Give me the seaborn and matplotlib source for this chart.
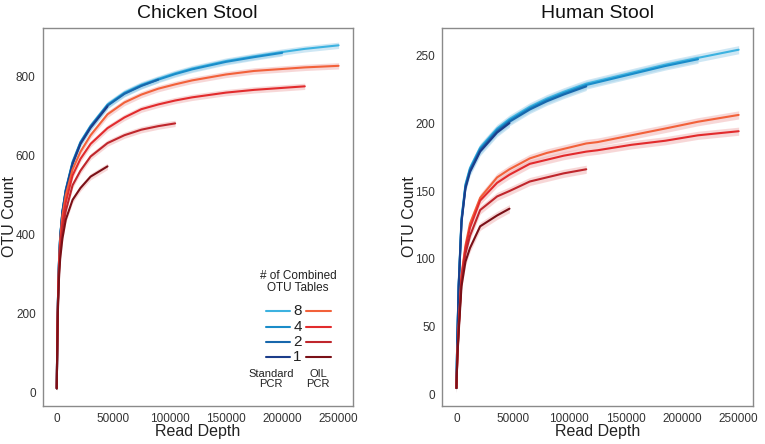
import numpy as np
import pandas as pd
import matplotlib
matplotlib.use("Agg")
import matplotlib.pyplot as plt
import seaborn as sns
from matplotlib.lines import Line2D

# ---- data (rarefaction curves) ----
# Chicken stool: common read-depth grid, each series runs as far as its list goes
ck_depth = [0, 250, 500, 1000, 1500, 2000, 3000, 5000, 8000, 14000, 21000, 30000,
            45000, 60000, 75000, 90000, 105000, 120000, 150000, 175000, 200000,
            220000, 250000]
ck_std8 = [10, 80, 140, 230, 290, 335, 395, 460, 515, 585, 635, 676, 730, 760, 780,
           795, 809, 821, 840, 852, 863, 871, 880]
ck_std4 = [10, 80, 139, 229, 289, 334, 394, 458, 513, 582, 633, 674, 728, 758, 778,
           793, 807, 819, 838, 850, 861]
ck_std2 = [10, 79, 139, 228, 288, 333, 393, 457, 512, 581, 632, 673, 727, 757, 777,
           793]
ck_std1 = [10, 79, 138, 227, 287, 332, 392, 456, 510, 579, 630, 671, 725]
ck_oil8 = [10, 79, 138, 226, 284, 327, 385, 447, 500, 565, 610, 652, 705, 735, 755,
           770, 781, 791, 806, 815, 820, 824, 828]
ck_oil4 = [10, 78, 135, 220, 276, 318, 372, 430, 482, 550, 592, 630, 670, 697, 718,
           730, 740, 748, 760, 767, 772, 776]
ck_oil2 = [10, 77, 132, 213, 266, 305, 357, 412, 460, 525, 562, 598, 632, 652, 666,
           675, 682]
ck_oil1 = [10, 75, 128, 205, 255, 290, 338, 390, 438, 488, 518, 547, 573]

# Human stool
hs_depth = [0, 500, 1000, 2000, 4500, 8000, 12000, 21000, 36000, 47000, 65000, 80000,
            95000, 115000, 125000, 155000, 185000, 214000, 250000]
hs_std8 = [5, 30, 48, 82, 130, 155, 167, 182, 196, 203, 212, 218, 223, 229, 231, 237,
           243, 248, 254]
hs_std4 = [5, 30, 48, 81, 129, 154, 166, 181, 195, 202, 211, 217, 222, 228, 230, 236,
           242, 247]
hs_std2 = [5, 30, 47, 80, 128, 153, 165, 180, 194, 201, 210, 216, 221, 227]
hs_std1 = [5, 29, 47, 80, 127, 152, 164, 179, 193, 200]
hs_oil8 = [5, 20, 32, 50, 88, 110, 126, 145, 160, 166, 174, 178, 181, 185, 186, 191,
           196, 201, 206]
hs_oil4 = [5, 20, 32, 50, 87, 108, 123, 143, 156, 162, 170, 173, 176, 179, 180, 184,
           187, 191, 194]
hs_oil2 = [5, 19, 31, 48, 84, 104, 117, 136, 146, 150, 157, 160, 163, 166]
hs_oil1 = [5, 19, 30, 46, 80, 98, 108, 124, 132, 137]

# half-width of the shaded band around each curve (OTUs)
ck_band = 8
hs_band = 3

series_order = ["std8", "std4", "std2", "std1", "oil8", "oil4", "oil2", "oil1"]
line_colors = {
    "std8": "#3cb2e0", "std4": "#1a8cc9", "std2": "#1767ac", "std1": "#1b3d8a",
    "oil8": "#f2613a", "oil4": "#e22b2d", "oil2": "#bf262c", "oil1": "#7a1017",
}
band_colors = {k: ("#9fd0ea" if k.startswith("std") else "#f1b1b1") for k in series_order}


def long_form(depth, curves):
    rows = []
    for name in series_order:
        vals = curves[name]
        for d, v in zip(depth, vals):
            rows.append((name, d, v))
    return pd.DataFrame(rows, columns=["series", "depth", "otu"])


ck_df = long_form(ck_depth, {"std8": ck_std8, "std4": ck_std4, "std2": ck_std2,
                             "std1": ck_std1, "oil8": ck_oil8, "oil4": ck_oil4,
                             "oil2": ck_oil2, "oil1": ck_oil1})
hs_df = long_form(hs_depth, {"std8": hs_std8, "std4": hs_std4, "std2": hs_std2,
                             "std1": hs_std1, "oil8": hs_oil8, "oil4": hs_oil4,
                             "oil2": hs_oil2, "oil1": hs_oil1})

sns.set_style("white")
plt.rcParams["font.family"] = ["Liberation Sans", "DejaVu Sans"]

fig = plt.figure(figsize=(7.65, 4.44), dpi=100)
ax1 = fig.add_axes([0.0558, 0.0863, 0.4052, 0.8507])
ax2 = fig.add_axes([0.5782, 0.0863, 0.4058, 0.8507])


def draw_panel(ax, df, band, title, ylim, yticks):
    for name in series_order:
        sub = df[df["series"] == name]
        ax.fill_between(sub["depth"], sub["otu"] - band, sub["otu"] + band,
                        color=band_colors[name], alpha=0.5, linewidth=0)
    sns.lineplot(data=df, x="depth", y="otu", hue="series", hue_order=series_order,
                 palette=line_colors, linewidth=1.5, legend=False, ax=ax,
                 estimator=None, sort=False)
    ax.set_xlim(-12500, 262500)
    ax.set_ylim(*ylim)
    ax.set_xticks([0, 50000, 100000, 150000, 200000, 250000])
    ax.set_xticklabels(["0", "50000", "100000", "150000", "200000", "250000"])
    ax.set_yticks(yticks)
    ax.set_title(title, fontsize=14, pad=7, color="#111111")
    ax.set_xlabel("Read Depth", fontsize=11.5, color="#222222")
    ax.set_ylabel("OTU Count", fontsize=11.5, color="#222222")
    ax.xaxis.set_label_coords(0.5, -0.068)
    ax.yaxis.set_label_coords(-0.106, 0.5)
    ax.xaxis.label.set_va("center")
    ax.yaxis.label.set_va("center")
    ax.tick_params(axis="both", length=3, width=0.8, colors="#777777",
                   labelcolor="#333333", labelsize=8.5, direction="out", pad=2)
    for sp in ax.spines.values():
        sp.set_color("#8a8a8a")
        sp.set_linewidth(1.0)


draw_panel(ax1, ck_df, ck_band, "Chicken Stool", (-34, 924), [0, 200, 400, 600, 800])
draw_panel(ax2, hs_df, hs_band, "Human Stool", (-8, 270), [0, 50, 100, 150, 200, 250])

# ---- hand-built legend inside the chicken panel ----
tr = ax1.transAxes
ax1.text(0.824, 0.3275, "# of Combined\nOTU Tables", transform=tr, ha="center",
         va="center", fontsize=8.5, color="#222222", linespacing=1.05)
legend_nums = ["8", "4", "2", "1"]
row_y = [0.2507, 0.2084, 0.1681, 0.1284]
for num, y in zip(legend_nums, row_y):
    ax1.add_line(Line2D([0.720, 0.798], [y, y], transform=tr,
                        color=line_colors["std" + num], linewidth=1.5))
    ax1.add_line(Line2D([0.849, 0.930], [y, y], transform=tr,
                        color=line_colors["oil" + num], linewidth=1.5))
    ax1.text(0.822, y, num, transform=tr, ha="center", va="center",
             fontsize=11, color="#222222")
ax1.text(0.737, 0.0707, "Standard\nPCR", transform=tr, ha="center", va="center",
         fontsize=8, color="#222222", linespacing=1.0)
ax1.text(0.889, 0.0707, "OIL\nPCR", transform=tr, ha="center", va="center",
         fontsize=8, color="#222222", linespacing=1.0)

fig.savefig("out.png", dpi=100)
